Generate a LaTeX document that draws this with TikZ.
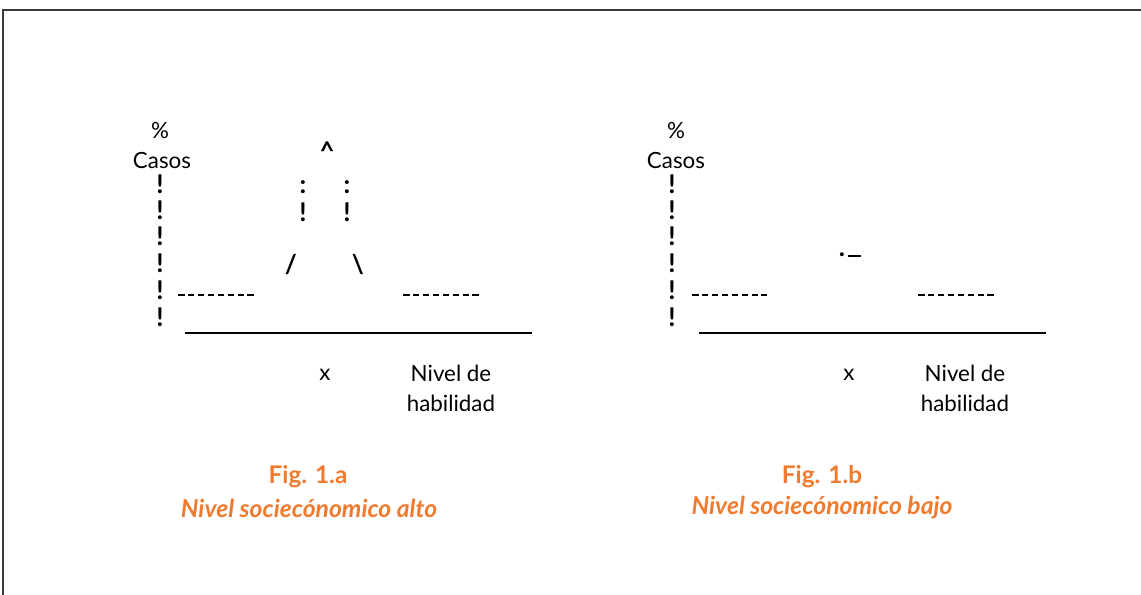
\documentclass[tikz,border=0pt]{standalone}
\usepackage{fontspec}
\setmainfont{Lato}
\definecolor{figorange}{HTML}{F07B2E}
\definecolor{framegray}{HTML}{3A3A3A}
\tikzset{
  lbl/.style={inner sep=0pt, font=\fontsize{13.4}{15}\selectfont},
  glyph/.style={inner sep=0pt, font=\fontsize{15.5}{17}\selectfont\bfseries},
  ttl/.style={inner sep=0pt, text=figorange, font=\fontsize{14.6}{17}\selectfont\bfseries},
  sub/.style={inner sep=0pt, text=figorange, font=\fontsize{14.8}{17}\selectfont\bfseries\itshape},
  dashrow/.style={line width=1.2pt, dash pattern=on 3.9pt off 2.05pt},
  axisline/.style={line width=1.2pt},
  framestyle/.style={line width=0.9pt, draw=framegray}
}
\begin{document}
\begin{tikzpicture}[x=0.6pt,y=-0.6pt]
\useasboundingbox (0,0) rectangle (1141,595);
% frame
\coordinate (ftr) at (1141,10);
\coordinate (ftl) at (3,10);
\coordinate (fbl) at (3,595);
\draw[framestyle] (ftr) -- (ftl) -- (fbl);

% ---------- left chart ----------
\node[lbl] (pctA) at (160,131) {\%};
\node[lbl] (casosA) at (162,160) {Casos};
\foreach \yy [count=\i] in {184,210,236,263,290,317}
  \node[glyph] (exA\i) at (160,\yy) {!};
\node[glyph, anchor=north] (caretA) at (327,141) {\textasciicircum};
\node[glyph] (colA1) at (303,187) {:};
\node[glyph] (colA2) at (347,187) {:};
\node[glyph] (exA7) at (303,212) {!};
\node[glyph] (exA8) at (347,212) {!};
\node[glyph] (slA) at (291,265) {/};
\node[glyph] (bsA) at (358,265) {\textbackslash};
\coordinate (dA1s) at (178,295); \coordinate (dA1e) at (254,295);
\coordinate (dA2s) at (403,295); \coordinate (dA2e) at (480,295);
\draw[dashrow] (dA1s) -- (dA1e);
\draw[dashrow] (dA2s) -- (dA2e);
\coordinate (bAs) at (185,333); \coordinate (bAe) at (532,333);
\draw[axisline] (bAs) -- (bAe);
\node[lbl] (xA) at (325,375) {x};
\node[lbl] (nivA) at (451,373) {Nivel de};
\node[lbl] (habA) at (451,403) {habilidad};
\node[ttl] (figA) at (308,477) {Fig. 1.a};
\node[sub] (subA) at (309,508) {Nivel sociecónomico alto};

% ---------- right chart ----------
\node[lbl] (pctB) at (676,131) {\%};
\node[lbl] (casosB) at (676,160) {Casos};
\foreach \yy [count=\i] in {184,210,236,263,290,317}
  \node[glyph] (exB\i) at (672,\yy) {!};
\node[glyph] (dotB) at (842,255) {.};
\coordinate (uBs) at (848,256); \coordinate (uBe) at (861,256);
\draw[line width=1.5pt] (uBs) -- (uBe);
\coordinate (dB1s) at (692,295); \coordinate (dB1e) at (767,295);
\coordinate (dB2s) at (918,295); \coordinate (dB2e) at (994,295);
\draw[dashrow] (dB1s) -- (dB1e);
\draw[dashrow] (dB2s) -- (dB2e);
\coordinate (bBs) at (699,333); \coordinate (bBe) at (1046,333);
\draw[axisline] (bBs) -- (bBe);
\node[lbl] (xB) at (849,375) {x};
\node[lbl] (nivB) at (965,373) {Nivel de};
\node[lbl] (habB) at (965,403) {habilidad};
\node[ttl] (figB) at (822,477) {Fig. 1.b};
\node[sub] (subB) at (822,508) {Nivel sociecónomico bajo};
\end{tikzpicture}
\end{document}
